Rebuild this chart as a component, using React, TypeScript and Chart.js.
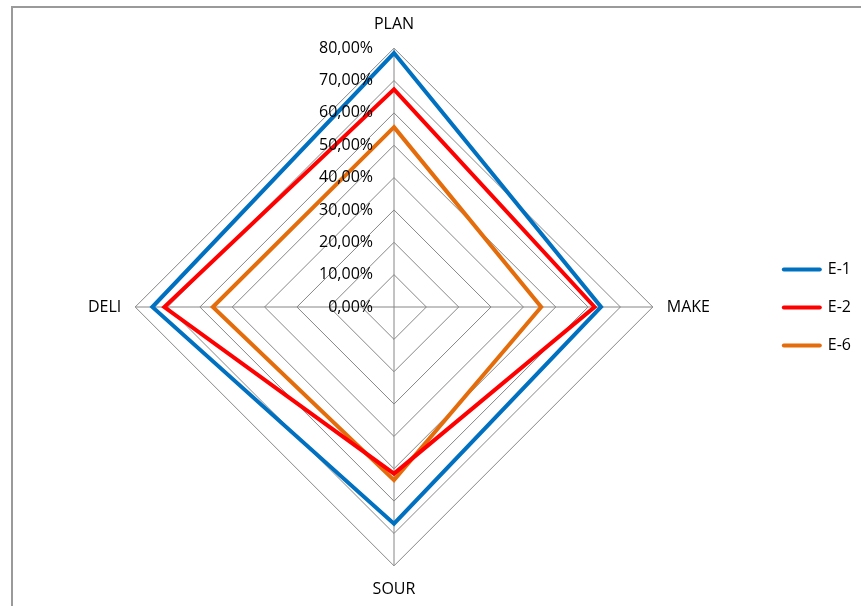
import React, { useEffect, useRef } from "react";
import { Chart, registerables } from "chart.js";

Chart.register(...registerables);

// Axes of the radar, clockwise from the top
const categories = ["PLAN", "MAKE", "SOUR", "DELI"];

// Scores per axis, in percent
const seriesE1 = [78.5, 64, 67, 74.7];
const seriesE2 = [67.3, 62, 51.5, 71];
const seriesE6 = [55.6, 45.5, 53.5, 56];

const seriesNames = ["E-1", "E-2", "E-6"];
const seriesColors = ["#0070C0", "#FF0000", "#E46C0A"];

// Radial axis range and tick labels (0,00% … 80,00%)
const axisMax = 80;
const axisStep = 10;
const tickLabels = [
  "0,00%",
  "10,00%",
  "20,00%",
  "30,00%",
  "40,00%",
  "50,00%",
  "60,00%",
  "70,00%",
  "80,00%",
];

const FONT = "'Open Sans', 'DejaVu Sans', sans-serif";

// Draws the radial tick labels right-aligned just left of the vertical axis,
// on top of the series lines.
const tickLabelPlugin = {
  id: "leftTickLabels",
  afterDatasetsDraw(chart: any) {
    const scale = chart.scales.r;
    const ctx = chart.ctx;
    ctx.save();
    ctx.font = `16px ${FONT}`;
    ctx.fillStyle = "#000000";
    ctx.textAlign = "right";
    ctx.textBaseline = "middle";
    scale.ticks.forEach((tick: any, i: number) => {
      const dist = scale.getDistanceFromCenterForValue(tick.value);
      const label = tickLabels[i] ?? "";
      ctx.fillText(label, scale.xCenter - 21, scale.yCenter - dist);
    });
    ctx.restore();
  },
};

export default function App() {
  const canvasRef = useRef<HTMLCanvasElement | null>(null);

  useEffect(() => {
    if (!canvasRef.current) return;
    const values = [seriesE1, seriesE2, seriesE6];
    const chart = new Chart(canvasRef.current, {
      type: "radar",
      data: {
        labels: categories,
        datasets: values.map((data, i) => ({
          label: seriesNames[i],
          data,
          borderColor: seriesColors[i],
          backgroundColor: seriesColors[i],
          borderWidth: 4,
          borderJoinStyle: "miter" as const,
          fill: false,
          pointRadius: 0,
          pointHoverRadius: 0,
        })),
      },
      options: {
        responsive: false,
        animation: false,
        events: [],
        layout: { padding: { left: 27, top: 15, bottom: 6, right: 0 } },
        scales: {
          r: {
            min: 0,
            max: axisMax,
            beginAtZero: true,
            ticks: { stepSize: axisStep, display: false },
            grid: { color: "#868686", lineWidth: 1 },
            angleLines: { color: "#868686", lineWidth: 1 },
            pointLabels: {
              color: "#000000",
              padding: 14,
              font: { family: FONT, size: 16 },
            },
          },
        },
        plugins: {
          tooltip: { enabled: false },
          legend: {
            position: "right",
            labels: {
              color: "#000000",
              font: { family: FONT, size: 16 },
              padding: 22,
              usePointStyle: true,
              pointStyle: "line",
              pointStyleWidth: 36,
              generateLabels: (c: any) =>
                Chart.defaults.plugins.legend.labels
                  .generateLabels(c)
                  .map((item: any) => ({
                    ...item,
                    lineWidth: 4,
                    lineCap: "round",
                    strokeStyle: seriesColors[item.datasetIndex],
                  })),
            },
          },
        },
      },
      plugins: [tickLabelPlugin],
    });
    return () => chart.destroy();
  }, []);

  return (
    <div
      style={{
        position: "fixed",
        left: 0,
        top: 0,
        width: 861,
        height: 606,
        overflow: "hidden",
        background: "#ffffff",
      }}
    >
      <div
        style={{
          position: "absolute",
          left: 11,
          top: 6,
          width: 900,
          height: 700,
          borderTop: "2px solid #9a9a9a",
          borderLeft: "2px solid #9a9a9a",
          boxSizing: "border-box",
        }}
      />
      <canvas
        ref={canvasRef}
        width={861}
        height={606}
        style={{ position: "absolute", left: 0, top: 0 }}
      />
    </div>
  );
}
